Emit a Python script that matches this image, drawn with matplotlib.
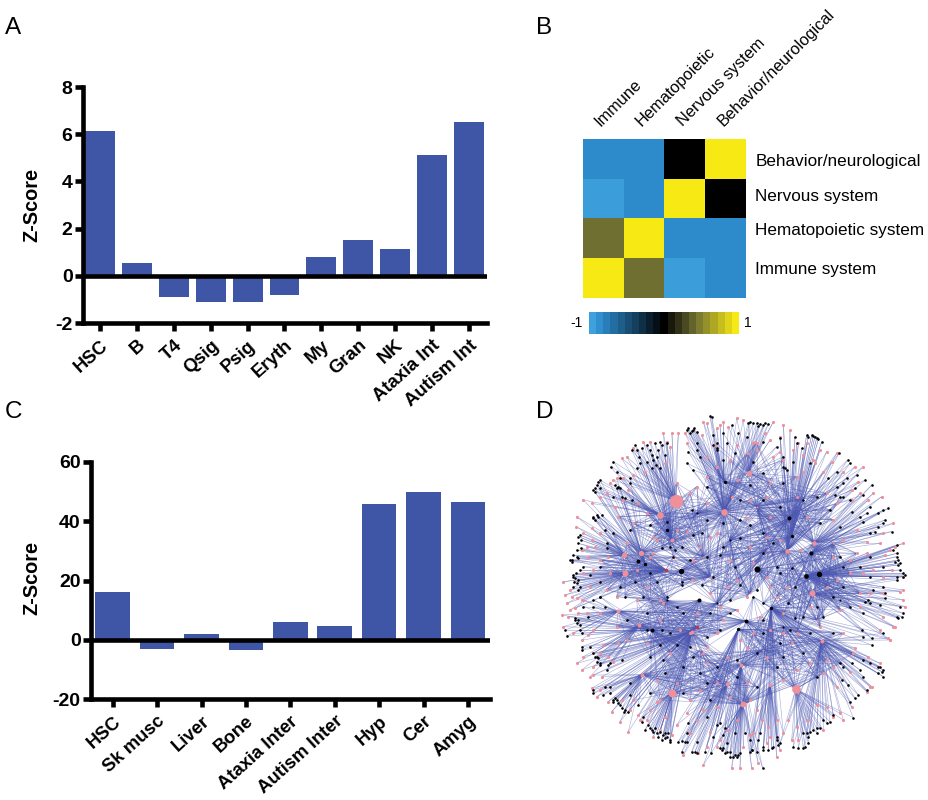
import matplotlib
matplotlib.use("Agg")
import matplotlib.pyplot as plt
from matplotlib.collections import LineCollection
from matplotlib.colors import LinearSegmentedColormap

plt.rcParams['font.family'] = ['Liberation Sans', 'DejaVu Sans']
W, H = 929, 800
BLUE = '#3f55a5'
PINK = '#ee8f99'
EDGE = '#4c58b2'

a_labels = ['HSC', 'B', 'T4', 'Qsig', 'Psig', 'Eryth', 'My', 'Gran', 'NK', 'Ataxia Int', 'Autism Int']
a_values = [6.15, 0.55, -0.9, -1.1, -1.1, -0.8, 0.8, 1.5, 1.15, 5.1, 6.5]
c_labels = ['HSC', 'Sk musc', 'Liver', 'Bone', 'Ataxia Inter', 'Autism Inter', 'Hyp', 'Cer', 'Amyg']
c_values = [16, -3.2, 2, -3.4, 6, 4.6, 45.8, 49.8, 46.5]

heat_cols = ['Immune', 'Hematopoietic', 'Nervous system', 'Behavior/neurological']
heat_rows = ['Behavior/neurological', 'Nervous system', 'Hematopoietic system', 'Immune system']
heat_vals = [[-0.88, -0.88, 0.0, 1.0],
             [-0.98, -0.88, 1.0, 0.0],
             [0.45, 1.0, -0.88, -0.88],
             [1.0, 0.45, -0.98, -0.88]]
row_label_px = [160, 195, 229, 268]

# network, in coordinates: x, y, colour, radius
hubs = [(378,303,'p',20),(330,345,'p',10),(522,335,'p',10),(596,218,'p',8),(222,465,'p',8),(225,520,'p',9),
        (274,458,'p',8),(392,513,'k',8),(620,508,'k',9),(768,527,'k',7),(808,523,'k',8),(783,460,'k',6),
        (717,354,'k',6),(447,601,'k',6),(587,663,'k',6),(787,580,'p',9),(792,428,'p',7),(366,878,'p',12),
        (578,913,'p',9),(737,867,'p',13),(265,483,'k',6),(285,491,'k',5),(204,634,'p',6),(267,676,'p',6),
        (307,690,'k',6),(276,824,'p',6),(425,697,'p',6),(565,687,'k',5),(663,623,'k',5),(710,452,'p',7),
        (365,420,'p',6),(524,246,'k',5),(352,390,'k',5),(725,407,'k',5),(440,680,'r',5),(347,510,'r',5),
        (815,722,'p',6),(573,795,'p',6),(532,852,'p',6),(660,855,'p',5),
        (460,470,'p',3),(540,420,'k',3),(650,450,'p',3),(600,580,'p',3),(500,610,'k',3),(700,680,'k',3),
        (640,750,'p',3),(450,750,'p',3),(350,600,'k',3),(300,600,'p',3),(850,430,'p',3),(870,600,'k',3),
        (620,320,'p',3),(440,340,'k',3),(800,660,'p',3),(480,530,'p',3)]

fan_black = {
 0: [(270,190),(300,150),(320,170),(315,130),(335,135),(275,145),(245,150),(290,185),(310,180),(350,130),(345,165),(182,200),(190,185),(210,235),(262,150),(325,150),
     (255,135),(268,170),(305,165),(318,195),(330,125),(260,205),(290,135),(200,215),(240,250),(305,205),(330,205)],
 1: [(130,270),(150,240),(140,255),(195,255),(210,265),(225,295),(190,290),(135,275),(150,265),(205,260),(135,265),(145,245),(200,265),(215,290),(245,300),(240,235)],
 4: [(130,355),(140,345),(155,345),(135,360),(90,405),(85,430),(80,450),(60,480),(85,475),(92,420),(82,470),(85,410),(92,445),(70,465),(65,485),(130,350),(145,350),(165,390),(170,445)],
 5: [(70,525),(75,535),(80,550),(70,560),(85,570),(100,500),(90,510),(78,520),(65,480),(70,530),(72,545),(85,540),(90,560),(150,545),(150,590),(120,525)],
 22: [(75,655),(80,670),(50,708),(90,690),(130,620),(150,590),(85,660),(95,700),(75,660),(90,675),(45,690),(115,650),(130,600),(165,620),(100,620)],
 23: [(95,740),(140,770),(150,790),(130,760),(180,790),(170,810),(145,775),(290,690),(135,770),(140,785),(150,795),(175,795),(215,780),(120,740),(95,750)],
 25: [(130,870),(165,860),(190,900),(205,910),(215,925),(235,935),(180,880),(200,900),(225,930),(240,885),(190,905),(195,895),(210,915),(222,935),(265,915),(180,860),(160,885),(240,850),(130,880)],
 17: [(300,985),(320,1000),(345,1000),(360,1020),(335,1020),(285,990),(310,995),(275,965),(350,1010),(305,990),(325,1010),(345,1015),(315,985),(330,995),(355,1000),(295,975),(340,1005),(280,950),(360,1025)],
 18: [(515,1050),(525,1060),(550,1070),(565,1065),(540,1055),(490,1010),(605,1050),(555,1000),(520,1045),(560,1072),(638,1105),(530,1055),(540,1070),(555,1065),(570,1060),(510,1045),(530,1030),(520,1005),(585,1000)],
 38: [(395,1055),(385,1025),(410,1025),(435,1055),(465,1055),(415,970),(510,970),(525,985),(405,1025),(482,1060),(395,1022),(425,1055),(440,1060),(500,975),(410,1000),(470,950),(440,1025)],
 39: [(605,1050),(640,1050),(665,1045),(685,1035),(680,1020),(625,1020),(655,1050),(600,1055),(620,1055),(640,1040),(670,1040),(600,1020),(680,1010),(630,1000)],
 19: [(730,1040),(745,1045),(765,1040),(775,1010),(790,990),(810,985),(840,965),(760,1000),(830,970),(910,953),(780,995),(800,1000),(760,1045),(770,1000),(820,960),(850,945),(800,985),(775,1030),(690,1030)],
 36: [(900,905),(915,895),(950,870),(985,820),(1000,830),(990,800),(940,830),(930,810),(880,800),(895,855),(925,885),(995,815),(965,735),(1000,810),(985,800),(960,790),(905,790),(940,780),(875,840),(1000,700),(940,710)],
 15: [(1040,650),(1060,640),(1050,620),(960,610),(945,605),(1005,580),(1040,530),(1060,530),(970,570),(965,715),(935,690),(1045,655),(1000,560),(1055,650),(1005,595),(955,600),(1040,540),(990,615),(940,640)],
 10: [(1040,435),(1040,470),(1045,495),(1050,510),(1030,450),(960,470),(1065,525),(1045,480),(880,500),(1040,460),(1035,485),(1050,490),(1060,520),(1000,500),(930,500),(960,530)],
 11: [(965,255),(1015,325),(1005,360),(985,380),(960,320),(930,350),(950,340),(1000,370),(1025,395),(870,290),(960,400),(1000,330),(985,340),(940,365),(975,395),(905,335),(870,380)],
 12: [(920,225),(945,240),(893,180),(860,260),(880,290),(915,265),(855,285),(868,158),(860,215),(890,235),(940,285),(900,300),(880,250),(835,235),(900,190)],
 33: [(770,105),(785,105),(800,115),(815,125),(740,130),(780,190),(710,210),(790,108),(700,200),(775,110),(795,110),(805,118),(755,145),(730,185),(735,110),(690,115)],
 3: [(600,65),(620,70),(640,75),(655,72),(545,75),(565,100),(640,125),(530,130),(500,145),(610,68),(630,72),(500,130),(595,68),(645,70),(625,78),(520,100),(555,160),(610,185),(680,140),(700,170),(705,205),(590,110)],
 31: [(415,85),(430,90),(440,95),(485,50),(490,135),(440,150),(415,155),(430,210),(425,92),(520,180),(440,130),(410,90),(420,100),(432,85),(490,105),(502,150),(450,170),(412,190),(480,48)],
}
fan_pink = {
 0: [(340,98),(365,100),(385,98),(250,145),(215,175),(350,125),(300,125),(280,125),(190,240),(220,235),(230,170),(285,215),(345,190),(360,140),(250,225)],
 1: [(150,290),(200,235),(235,270),(100,300),(220,300),(170,280),(180,250),(265,310),(125,310),(195,320)],
 4: [(80,350),(78,380),(125,420),(110,440),(100,400),(150,400),(125,385),(95,450),(135,440),(175,470),(115,470)],
 5: [(40,545),(60,570),(65,590),(50,610),(60,630),(100,520),(120,560),(95,600),(45,585),(80,595),(130,510),(75,625)],
 22: [(35,645),(40,680),(70,700),(95,720),(110,640),(100,600),(130,690),(55,650),(85,640),(150,640),(115,705)],
 23: [(80,790),(130,760),(120,830),(175,770),(190,785),(100,770),(160,735),(130,800),(95,810),(205,730),(150,760)],
 25: [(125,865),(140,890),(175,905),(210,965),(235,995),(240,930),(155,830),(150,870),(185,935),(215,900),(130,825)],
 17: [(310,1010),(270,960),(330,990),(365,1005),(290,960),(320,905),(300,930),(345,950),(265,945),(250,900)],
 18: [(460,1095),(545,1105),(570,1105),(605,1105),(500,1040),(580,1040),(600,1005),(530,990),(560,960),(510,1020),(625,1090)],
 38: [(400,1065),(445,1060),(470,1040),(420,1000),(460,930),(500,920),(440,960),(410,940),(480,995),(380,975)],
 39: [(680,1070),(650,1030),(610,1000),(690,1050),(655,980),(635,960),(680,960),(620,930),(700,1000),(660,1010)],
 19: [(725,1020),(770,960),(880,960),(820,990),(850,950),(745,1020),(800,915),(740,980),(870,940),(715,960),(830,920)],
 36: [(960,860),(950,875),(905,920),(965,860),(860,860),(990,790),(900,815),(1020,720),(955,770),(915,745),(850,800),(1015,715)],
 15: [(1060,600),(1060,570),(1065,620),(1030,680),(1020,720),(1000,580),(960,580),(1035,680),(1000,650),(1050,575),(930,620),(990,690)],
 10: [(1060,430),(1035,440),(1020,450),(1060,530),(970,510),(1000,530),(950,460),(1005,465),(940,520),(1025,510),(900,480)],
 11: [(995,290),(970,280),(1030,370),(990,430),(920,390),(880,420),(955,300),(1000,400),(905,300),(950,425),(930,280)],
 12: [(915,200),(940,200),(860,160),(830,155),(905,270),(860,310),(820,215),(880,215),(795,190),(925,245),(845,185)],
 33: [(700,75),(720,90),(745,130),(790,180),(810,150),(770,130),(760,215),(690,110),(730,150),(760,165),(670,170)],
 3: [(560,55),(580,60),(615,125),(645,100),(670,65),(535,80),(690,155),(610,130),(620,150),(560,135),(660,120)],
 31: [(460,65),(470,70),(510,75),(520,65),(500,85),(405,100),(495,135),(455,105),(470,170),(410,130),(500,200)],
}
# each fan also reaches one hub further in
fan_also = {0:30, 1:21, 4:35, 5:35, 22:24, 23:26, 25:34, 17:26, 18:37, 38:27, 39:28, 19:36, 36:28, 15:9, 10:9, 11:16, 12:29, 33:29, 3:2, 31:2}
# interior meshes: every node listed is tied to every hub of its group
mesh_hubs = [(0,1,2,30,32,6,40,55,53), (7,41,42,2,12,29,43,44,33), (8,9,10,11,28,15,29,16,50,54,52), (13,14,26,24,23,22,44,34,48,49),
             (14,27,28,36,19,37,18,45,46), (5,4,20,21,35,7,48,49,55), (17,25,24,26,38,37,47,46,18), (3,31,2,12,33,16,52,53,41)]
mesh_black = [
 [(360,440),(375,450),(395,440),(430,405),(455,400),(425,330),(350,365),(300,375),(370,470),(240,390),(520,370),(570,360),(470,360),(335,445)],
 [(470,470),(510,465),(555,500),(570,415),(600,375),(520,440),(455,555),(395,545),(490,530),(640,460),(570,555),(620,570),(670,430),(540,600)],
 [(690,520),(735,560),(800,620),(715,610),(680,500),(850,590),(870,470),(640,610),(725,505),(880,560),(760,650),(820,650),(735,655),(900,620)],
 [(380,620),(400,640),(360,700),(330,735),(470,710),(510,690),(420,740),(290,640),(300,770),(380,735),(480,640),(230,660),(335,690),(540,640)],
 [(640,700),(690,730),(680,800),(620,760),(560,780),(760,760),(720,690),(800,830),(870,790),(610,590),(640,660),(850,700),(780,700),(700,770)],
 [(320,545),(395,555),(300,520),(210,560),(150,500),(170,430),(255,545),(350,590),(280,590),(225,590),(420,480),(190,400)],
 [(340,780),(400,800),(450,820),(470,850),(300,880),(430,770),(560,830),(345,820),(500,800),(400,880),(620,860),(480,900)],
 [(600,255),(570,300),(700,250),(640,400),(760,300),(810,370),(840,330),(690,320),(640,300),(470,260),(800,290),(640,220)],
]
mesh_pink = [
 [(310,410),(320,420),(380,390),(410,395),(440,260),(470,310),(545,290),(420,280),(380,250),(250,370),(300,470),(205,350),(450,440),(480,410),(290,340)],
 [(590,355),(500,400),(540,480),(600,440),(650,410),(480,580),(530,560),(660,350),(430,480),(560,540),(690,420),(610,490),(650,530),(590,590),(510,620)],
 [(850,470),(900,520),(710,560),(660,560),(750,450),(830,560),(870,630),(780,620),(920,460),(930,580),(700,640),(740,700),(860,540),(680,590),(810,680)],
 [(260,600),(330,660),(440,640),(390,690),(470,740),(500,700),(340,610),(230,720),(420,700),(290,730),(520,660),(360,760),(200,680),(560,630)],
 [(630,650),(700,700),(650,770),(570,720),(590,745),(725,730),(780,790),(830,780),(660,690),(880,700),(820,820),(740,810),(610,700),(910,760),(700,840)],
 [(260,510),(290,560),(180,520),(200,590),(370,470),(230,430),(150,480),(330,600),(305,460),(170,570),(425,540)],
 [(470,790),(530,770),(380,850),(320,840),(420,900),(500,850),(590,850),(460,760),(330,900),(540,890),(600,900),(450,870)],
 [(620,130),(560,240),(650,290),(740,230),(830,280),(770,350),(850,360),(590,160),(700,180),(470,230),(660,250),(600,300),(740,290),(540,180)],
]

def px_axes(x0, y0, x1, y1):
    return fig.add_axes([x0 / W, 1 - y1 / H, (x1 - x0) / W, (y1 - y0) / H])

def bar_panel(ax, labels, values, x0, step, left, right, ylim, yticks, bw):
    xs = list(range(len(values)))
    ax.bar(xs, values, width=bw, color=BLUE, zorder=2)
    ax.set_xlim((left - x0) / step, (right - x0) / step)
    ax.set_ylim(*ylim)
    ax.axhline(0, color='black', lw=3.3, zorder=3)
    for s in ('top', 'right'):
        ax.spines[s].set_visible(False)
    for s in ('left', 'bottom'):
        ax.spines[s].set_linewidth(3.3)
    ax.set_xticks(xs)
    ax.set_xticklabels(labels, rotation=42, ha='right', va='top', rotation_mode='anchor',
                       fontsize=13.3, fontweight='bold')
    ax.set_yticks(yticks)
    ax.set_yticklabels([str(t) for t in yticks], fontsize=14, fontweight='bold')
    ax.tick_params(axis='both', width=3.3, length=6)
    ax.tick_params(axis='y', pad=1.5)
    ax.tick_params(axis='x', pad=4)
    ax.set_facecolor('none')

fig = plt.figure(figsize=(W / 100, H / 100), dpi=100, facecolor='white')

axa = px_axes(83, 87, 487, 323)
bar_panel(axa, a_labels, a_values, 100, 36.9, 83, 487, (-2, 8), [-2, 0, 2, 4, 6, 8], 0.81)
axc = px_axes(91, 462, 490, 699)
bar_panel(axc, c_labels, c_values, 112.7, 44.4, 91, 490, (-20, 60), [-20, 0, 20, 40, 60], 0.78)
fig.text(32 / W, 1 - 205 / H, 'Z-Score', rotation=90, ha='center', va='center', fontsize=14.3, fontweight='bold')
fig.text(32 / W, 1 - 578 / H, 'Z-Score', rotation=90, ha='center', va='center', fontsize=14.3, fontweight='bold')

for s, x, y in [('A', 5, 28), ('B', 536, 28), ('C', 5, 412), ('D', 536, 412)]:
    fig.text(x / W, 1 - y / H, s, ha='left', va='center', fontsize=17.5)

cmap = LinearSegmentedColormap.from_list(
    'bkY', [(0, '#3fa0de'), (0.06, '#2d8bcb'), (0.5, '#000000'), (0.725, '#6f6f33'), (1, '#f7ea14')], N=256)
axb = px_axes(582.7, 139, 745.7, 297.7)
axb.imshow(heat_vals, cmap=cmap, vmin=-1, vmax=1, aspect='auto', interpolation='nearest')
axb.set_xticks(range(4))
axb.set_xticklabels(heat_cols, rotation=45, ha='left', va='bottom', rotation_mode='anchor', fontsize=11.8)
axb.xaxis.tick_top()
axb.set_yticks([(p - 139) / (158.7 / 4) - 0.5 for p in row_label_px])
axb.set_yticklabels(heat_rows, fontsize=12.3)
axb.yaxis.tick_right()
axb.tick_params(length=0, pad=7)
for s in axb.spines.values():
    s.set_visible(False)

axk = px_axes(589, 312, 739, 334)
axk.imshow([[i / 10 - 1 for i in range(21)]], cmap=cmap, vmin=-1, vmax=1, aspect='auto', interpolation='nearest')
axk.axis('off')
fig.text(583 / W, 1 - 323 / H, '-1', ha='right', va='center', fontsize=10)
fig.text(744 / W, 1 - 323 / H, '1', ha='left', va='center', fontsize=10)

axd = px_axes(550, 400, 929, 800)
axd.set_xlim(0, 1137)
axd.set_ylim(1200, 0)
axd.axis('off')
segs, bx, by, qx, qy = [], [], [], [], []
for fan, xs_, ys_ in ((fan_black, bx, by), (fan_pink, qx, qy)):
    for h, pts in fan.items():
        for x, y in pts:
            segs.append([(hubs[h][0], hubs[h][1]), (x, y)])
            segs.append([(hubs[fan_also[h]][0], hubs[fan_also[h]][1]), (x, y)])
            xs_.append(x)
            ys_.append(y)
for hs, blacks, pinks in zip(mesh_hubs, mesh_black, mesh_pink):
    for pts, xs_, ys_ in ((blacks, bx, by), (pinks, qx, qy)):
        for x, y in pts:
            for h in hs:
                segs.append([(hubs[h][0], hubs[h][1]), (x, y)])
            xs_.append(x)
            ys_.append(y)
axd.add_collection(LineCollection(segs, colors=EDGE, linewidths=0.4, alpha=0.5, zorder=1))
axd.scatter(qx, qy, s=5, c=PINK, linewidths=0, zorder=2)
axd.scatter(bx, by, s=3.5, c='black', linewidths=0, zorder=3)
cols = {'p': PINK, 'k': 'black', 'r': '#c8323f'}
for x, y, c, r in hubs:
    # radius in zoom units -> diameter in points (3 zoom units = 1 px, 1 px = 0.72 pt)
    d = 2 * r / 3 * 0.72
    axd.scatter([x], [y], s=d * d, c=cols[c], linewidths=0, zorder=4)

fig.savefig('out.png', dpi=100)
